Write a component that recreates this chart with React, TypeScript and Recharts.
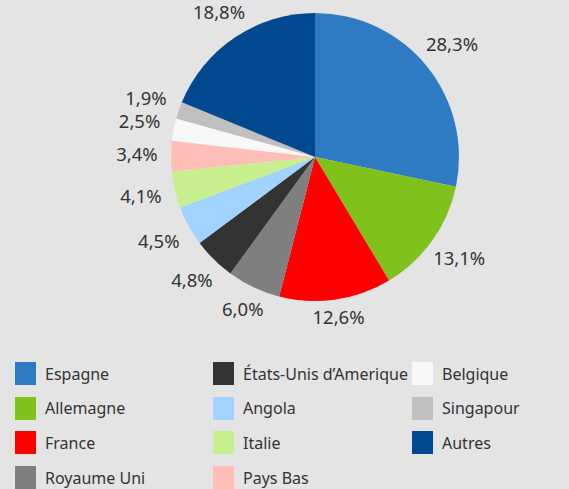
import { PieChart, Pie, Cell } from 'recharts';

const countries = [
  'Espagne', 'Allemagne', 'France', 'Royaume Uni', 'États-Unis d’Amerique', 'Angola',
  'Italie', 'Pays Bas', 'Belgique', 'Singapour', 'Autres',
];
const shares = [28.3, 13.1, 12.6, 6.0, 4.8, 4.5, 4.1, 3.4, 2.5, 1.9, 18.8];
const colors = [
  '#2e7bc4', '#80c11c', '#ff0000', '#7f7f7f', '#333333', '#a2d2ff',
  '#c8ef8e', '#ffbfb8', '#f8f8f8', '#c0c0c0', '#004890',
];

const data = countries.map((name, i) => ({ name, value: shares[i] }));

const RAD = Math.PI / 180;
const FONT = '"Noto Sans", "Open Sans", sans-serif';

function fmt(v: number) {
  return v.toFixed(1).replace('.', ',') + '%';
}

function renderLabel(props: any) {
  const { cx, cy, midAngle, outerRadius, value } = props;
  const dx = Math.cos(-midAngle * RAD);
  const dy = Math.sin(-midAngle * RAD);
  const halfW = 24;
  const halfH = 6;
  const dist = outerRadius + 10 + halfW * Math.abs(dx) + halfH * Math.abs(dy);
  return (
    <text
      x={cx + dist * dx}
      y={cy + dist * dy - 2}
      fill="#333333"
      fontSize={18.5}
      fontFamily={FONT}
      textAnchor="middle"
      dominantBaseline="central"
    >
      {fmt(value)}
    </text>
  );
}

const legendCols = [
  [0, 1, 2, 3],
  [4, 5, 6, 7],
  [8, 9, 10],
];
const colX = [15, 213, 412];

export default function App() {
  return (
    <div
      style={{
        position: 'absolute',
        left: 0,
        top: 0,
        width: 569,
        height: 489,
        background: '#e4e4e4',
        overflow: 'hidden',
        fontFamily: FONT,
      }}
    >
      <PieChart width={569} height={350} margin={{ top: 0, right: 0, bottom: 0, left: 0 }}>
        <Pie
          data={data}
          dataKey="value"
          nameKey="name"
          cx={315}
          cy={157}
          outerRadius={144}
          startAngle={90}
          endAngle={-270}
          stroke="none"
          label={renderLabel}
          labelLine={false}
          isAnimationActive={false}
        >
          {data.map((d, i) => (
            <Cell key={d.name} fill={colors[i]} />
          ))}
        </Pie>
      </PieChart>
      {legendCols.map((col, c) =>
        col.map((idx, r) => (
          <div
            key={countries[idx]}
            style={{
              position: 'absolute',
              left: colX[c],
              top: 362 + r * 34.7,
              display: 'flex',
              alignItems: 'center',
              height: 23,
            }}
          >
            <div style={{ width: 21, height: 23, background: colors[idx] }} />
            <span style={{ marginLeft: 9, fontSize: 16, color: '#333333', whiteSpace: 'nowrap' }}>
              {countries[idx]}
            </span>
          </div>
        ))
      )}
    </div>
  );
}
